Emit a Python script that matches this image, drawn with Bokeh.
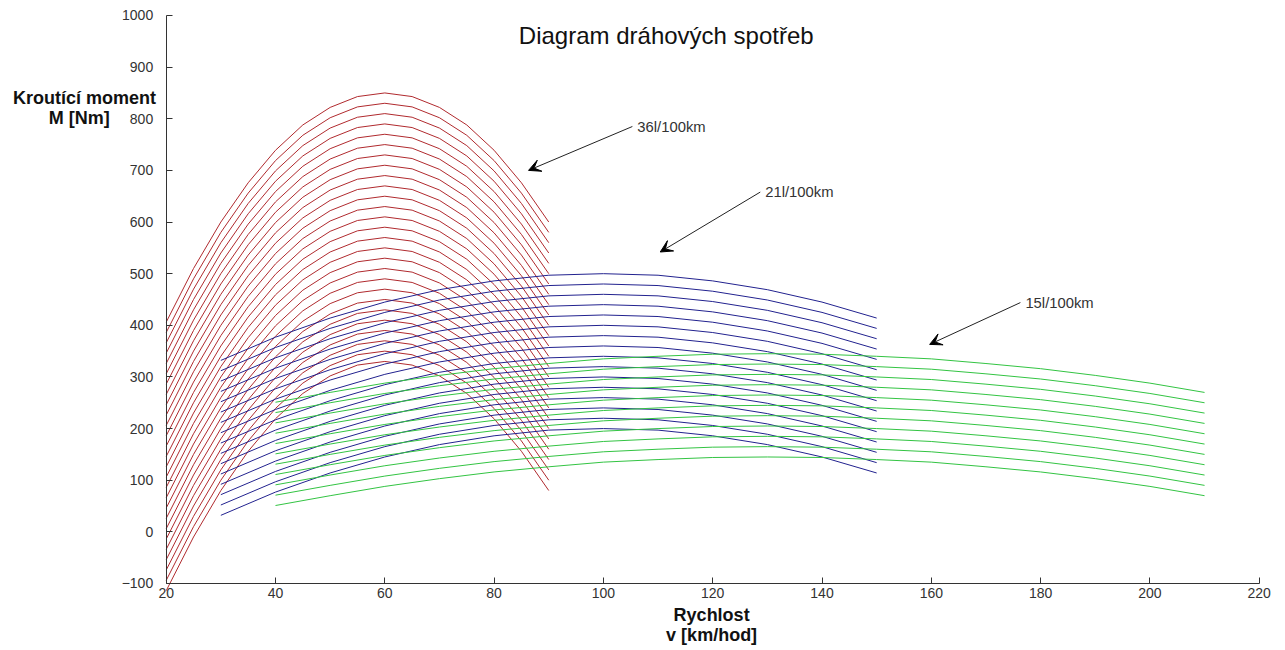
from bokeh.plotting import figure
from bokeh.models import Range1d, Label, Arrow, VeeHead, FixedTicker
from bokeh.embed import file_html
from bokeh.resources import INLINE

# Speed samples (km/h) and the upper curve of each consumption family (Nm)
speed_36 = [20, 25, 30, 35, 40, 45, 50, 55, 60, 65, 70, 75, 80, 85, 90]
torque_36_top = [406, 510, 600, 676, 739, 788, 822, 843, 850, 843, 822, 788, 739, 676, 600]
shift_36 = [0, 20, 40, 60, 80, 100, 120, 140, 160, 180, 200, 220, 240, 260,
            280, 300, 320, 340, 360, 380, 400, 420, 440, 460, 480, 500, 520]

speed_21 = [30, 40, 50, 60, 70, 80, 90, 100, 110, 120, 130, 140, 150]
torque_21_top = [332, 377, 414, 445, 469, 486, 497, 500, 497, 486, 469, 445, 414]
shift_21 = [0, 20, 40, 60, 80, 100, 120, 140, 160, 180, 200, 220, 240, 260, 280, 300]

speed_15 = [40, 50, 60, 70, 80, 90, 100, 110, 120, 130, 140, 150, 160, 170, 180, 190, 200, 210]
torque_15_top = [251, 270, 288, 303, 316, 326, 335, 340, 344, 345, 344, 340, 335, 326, 316, 303, 288, 270]
shift_15 = [0, 20, 40, 60, 80, 100, 120, 140, 160, 180, 200]

x_ticks = [20, 40, 60, 80, 100, 120, 140, 160, 180, 200, 220]
y_ticks = [-100, 0, 100, 200, 300, 400, 500, 600, 700, 800, 900, 1000]

FONT = "Liberation Sans"

# The frame spans the whole canvas; the axes sit at fixed positions inside it,
# so captions can be placed freely around the axes.
p = figure(width=1285, height=650, output_backend="svg", toolbar_location=None,
           x_range=Range1d(-10.32, 224.81), y_range=Range1d(-229.8, 1029.05),
           min_border=0)
p.outline_line_color = None
p.xgrid.visible = False
p.ygrid.visible = False
p.background_fill_color = "white"
p.border_fill_color = "white"

p.xaxis.fixed_location = -100
p.yaxis.fixed_location = 20
p.xaxis.bounds = (20, 220)
p.yaxis.bounds = (-100, 1000)

for ax, ticks in ((p.xaxis, x_ticks), (p.yaxis, y_ticks)):
    ax.ticker = FixedTicker(ticks=ticks)
    ax.axis_line_color = "#333333"
    ax.major_tick_line_color = "#333333"
    ax.major_tick_in = 6
    ax.major_tick_out = 0
    ax.minor_tick_line_color = None
    ax.major_label_text_font = FONT
    ax.major_label_text_font_size = "14px"
    ax.major_label_text_color = "#333333"
p.xaxis.major_label_standoff = 5
p.yaxis.major_label_standoff = 13

# 36 l/100km family
for s in shift_36:
    p.line(speed_36, [t - s for t in torque_36_top], line_color="#b02a2e", line_width=1)
# 21 l/100km family
for s in shift_21:
    p.line(speed_21, [t - s for t in torque_21_top], line_color="#22228f", line_width=1)
# 15 l/100km family
for s in shift_15:
    p.line(speed_15, [t - s for t in torque_15_top], line_color="#33c443", line_width=1)

# Annotations with arrows
notes = [
    ("36l/100km", 105.3, 785, 86.3, 700),
    ("21l/100km", 128.7, 658, 110.4, 542),
    ("15l/100km", 176.3, 444, 159.7, 363),
]
for text, xs, ys, xe, ye in notes:
    p.add_layout(Arrow(end=VeeHead(size=12, fill_color="black", line_color="black"),
                       x_start=xs, y_start=ys, x_end=xe, y_end=ye,
                       line_color="#222222", line_width=1))
    p.add_layout(Label(x=xs, y=ys, text=text, x_offset=5, text_font=FONT,
                       text_font_size="14.8px", text_color="#333333",
                       text_align="left", text_baseline="middle"))

p.add_layout(Label(x=111.5, y=962, text="Diagram dráhových spotřeb", text_font=FONT,
                   text_font_size="24px", text_color="#111111",
                   text_align="center", text_baseline="middle"))

# Axis captions
for txt, xv, yv in (("Kroutící moment", 5.05, 841), ("M [Nm]", 4.1, 802)):
    p.add_layout(Label(x=xv, y=yv, text=txt, text_font=FONT, text_font_size="18px",
                       text_font_style="bold", text_color="#111111",
                       text_align="center", text_baseline="middle"))

for txt, yv in (("Rychlost", -161), ("v [km/hod]", -199)):
    p.add_layout(Label(x=119.8, y=yv, text=txt, text_font=FONT, text_font_size="18px",
                       text_font_style="bold", text_color="#111111",
                       text_align="center", text_baseline="middle"))

open("out.html", "w").write(file_html(p, INLINE))
